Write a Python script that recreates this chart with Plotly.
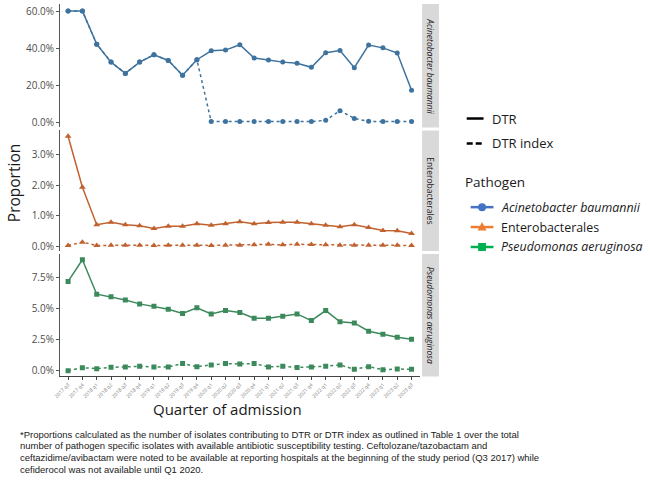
import plotly.graph_objects as go

W, H = 650, 490

quarters = ["2017 q3", "2017 q4",
            "2018 q1", "2018 q2", "2018 q3", "2018 q4",
            "2019 q1", "2019 q2", "2019 q3", "2019 q4",
            "2020 q1", "2020 q2", "2020 q3", "2020 q4",
            "2021 q1", "2021 q2", "2021 q3", "2021 q4",
            "2022 q1", "2022 q2", "2022 q3", "2022 q4",
            "2023 q1", "2023 q2", "2023 q3"]

acin_dtr = [60.0, 60.0, 42.1, 32.4, 26.3, 32.4, 36.4, 33.3, 25.3, 33.7,
            38.5, 38.9, 41.8, 34.6, 33.5, 32.4, 31.8, 29.6, 37.5, 38.7,
            29.4, 41.6, 40.1, 37.3, 17.2]
acin_idx = [60.0, 60.0, 42.1, 32.4, 26.3, 32.4, 36.4, 33.3, 25.3, 33.7,
            0.3, 0.3, 0.3, 0.3, 0.3, 0.3, 0.3, 0.3, 1.0, 6.2,
            2.0, 0.4, 0.3, 0.3, 0.3]

ent_dtr = [3.60, 1.93, 0.70, 0.78, 0.70, 0.67, 0.58, 0.65, 0.65, 0.73,
           0.68, 0.73, 0.80, 0.73, 0.77, 0.78, 0.78, 0.73, 0.68, 0.63,
           0.70, 0.61, 0.51, 0.50, 0.41]
ent_idx = [0.02, 0.13, 0.02, 0.03, 0.03, 0.03, 0.02, 0.03, 0.03, 0.03,
           0.02, 0.03, 0.03, 0.04, 0.06, 0.04, 0.06, 0.05, 0.04, 0.03,
           0.03, 0.03, 0.03, 0.03, 0.02]

pse_dtr = [7.20, 8.95, 6.17, 5.96, 5.71, 5.39, 5.20, 4.96, 4.61, 5.07,
           4.58, 4.85, 4.69, 4.23, 4.23, 4.39, 4.58, 4.04, 4.85, 3.94,
           3.85, 3.18, 2.94, 2.70, 2.53]
pse_idx = [0.00, 0.24, 0.16, 0.27, 0.30, 0.35, 0.30, 0.30, 0.57, 0.32,
           0.46, 0.57, 0.54, 0.57, 0.30, 0.35, 0.26, 0.30, 0.35, 0.46,
           0.11, 0.32, 0.08, 0.13, 0.11]

pathogens = ["Acinetobacter baumannii", "Enterobacterales", "Pseudomonas aeruginosa"]
line_colors = ["#3d739e", "#c0622f", "#3c8a5c"]
legend_colors = ["#4472c4", "#ed7d31", "#00b050"]
symbols = ["circle", "triangle-up", "square"]
msizes = [5, 6, 5]
dtr_series = [acin_dtr, ent_dtr, pse_dtr]
idx_series = [acin_idx, ent_idx, pse_idx]
y_ranges = [[-2.9, 63.8], [-0.16, 3.79], [-0.47, 9.42]]
y_ticks = [[0, 20, 40, 60], [0, 1, 2, 3], [0, 2.5, 5.0, 7.5]]
strip_italic = [True, False, True]

def px(x):
    return x / W

def py(y):
    return 1 - y / H

# panel pixel geometry
x0p, x1p = 54, 418
panels = [(4, 128), (131, 252), (255, 378)]

fig = go.Figure()
xpos = list(range(1, len(quarters) + 1))

for i in range(3):
    xa = "x" if i == 0 else f"x{i+1}"
    ya = "y" if i == 0 else f"y{i+1}"
    fig.add_trace(go.Scatter(
        x=xpos, y=idx_series[i], xaxis=xa, yaxis=ya, mode="lines+markers",
        line=dict(color=line_colors[i], width=1.5, dash="3px,3px"),
        marker=dict(symbol=symbols[i], size=msizes[i], color=line_colors[i]),
        showlegend=False, hoverinfo="skip"))
    fig.add_trace(go.Scatter(
        x=xpos, y=dtr_series[i], xaxis=xa, yaxis=ya, mode="lines+markers",
        line=dict(color=line_colors[i], width=1.5),
        marker=dict(symbol=symbols[i], size=msizes[i], color=line_colors[i]),
        showlegend=False, hoverinfo="skip"))

layout = dict(
    width=W, height=H, margin=dict(l=0, r=0, t=0, b=0),
    paper_bgcolor="white", plot_bgcolor="white", showlegend=False,
    font=dict(family="Open Sans, DejaVu Sans, sans-serif", color="#333333"),
)
for i in range(3):
    xk = "xaxis" if i == 0 else f"xaxis{i+1}"
    yk = "yaxis" if i == 0 else f"yaxis{i+1}"
    top, bot = panels[i]
    last = (i == 2)
    layout[xk] = dict(
        domain=[px(x0p), px(x1p)], range=[0.4, 25.6],
        anchor="y" if i == 0 else f"y{i+1}",
        showgrid=False, zeroline=False,
        showline=last, linecolor="#444444", linewidth=1,
        ticks="outside" if last else "", ticklen=2.5, tickcolor="#444444",
        tickvals=xpos, ticktext=quarters if last else [""] * len(quarters),
        showticklabels=last, tickangle=-45,
        tickfont=dict(size=5, color="#777777", family="Open Sans, sans-serif"),
    )
    layout[yk] = dict(
        domain=[py(bot), py(top)], range=y_ranges[i],
        anchor="x" if i == 0 else f"x{i+1}",
        showgrid=False, zeroline=False,
        showline=True, linecolor="#555555", linewidth=1,
        ticks="outside", ticklen=2.5, tickcolor="#555555",
        tickvals=y_ticks[i], ticktext=[f"{v:.1f}%" for v in y_ticks[i]],
        tickfont=dict(size=10, color="#4d4d4d", family="Open Sans, sans-serif"),
    )
fig.update_layout(**layout)

shapes = []
annotations = []

def ann(x, y, text, size, xanchor="center", angle=0, family="Open Sans, sans-serif", color="#1a1a1a"):
    annotations.append(dict(xref="paper", yref="paper", x=px(x), y=py(y), text=text,
                            xanchor=xanchor, yanchor="middle", showarrow=False, textangle=angle,
                            font=dict(size=size, color=color, family=family)))

# strips
for i in range(3):
    top, bot = panels[i]
    shapes.append(dict(type="rect", xref="paper", yref="paper",
                       x0=px(420), x1=px(437), y0=py(bot), y1=py(top),
                       fillcolor="#d9d9d9", line=dict(width=0), layer="below"))
    txt = f"<i>{pathogens[i]}</i>" if strip_italic[i] else pathogens[i]
    ann(428.5, (top + bot) / 2, txt, 8.5, angle=90)

# axis titles
ann(8, 184, "Proportion", 15.5, angle=-90)
ann(224, 411, "Quarter of admission", 15)

# linetype legend
shapes.append(dict(type="line", xref="paper", yref="paper", x0=px(465), x1=px(482),
                   y0=py(119), y1=py(119), line=dict(color="black", width=2.5)))
shapes.append(dict(type="line", xref="paper", yref="paper", x0=px(465), x1=px(482),
                   y0=py(144), y1=py(144), line=dict(color="black", width=2.5, dash="6px,3px")))
ann(489, 119, "DTR", 13, xanchor="left")
ann(489, 144, "DTR index", 13, xanchor="left")

# pathogen legend
ann(461, 183, "Pathogen", 13.5, xanchor="left")
leg_y = [208, 228, 248]
for i in range(3):
    yy = leg_y[i]
    c = legend_colors[i]
    shapes.append(dict(type="line", xref="paper", yref="paper", x0=px(469), x1=px(492),
                       y0=py(yy), y1=py(yy), line=dict(color=c, width=2.5)))
    cx = 480.5
    if i == 0:
        shapes.append(dict(type="circle", xref="paper", yref="paper",
                           x0=px(cx - 4), x1=px(cx + 4), y0=py(yy + 4), y1=py(yy - 4),
                           fillcolor=c, line=dict(width=0)))
    elif i == 1:
        path = (f"M {px(cx-4.5)} {py(yy+3.5)} L {px(cx+4.5)} {py(yy+3.5)} "
                f"L {px(cx)} {py(yy-5)} Z")
        shapes.append(dict(type="path", xref="paper", yref="paper", path=path,
                           fillcolor=c, line=dict(width=0)))
    else:
        shapes.append(dict(type="rect", xref="paper", yref="paper",
                           x0=px(cx - 4), x1=px(cx + 4), y0=py(yy + 4), y1=py(yy - 4),
                           fillcolor=c, line=dict(width=0)))
    txt = f"<i>{pathogens[i]}</i>" if strip_italic[i] else pathogens[i]
    ann(498, yy, txt, 12.4, xanchor="left")

# footnote
foot = [
    "*Proportions calculated as the number of isolates contributing to DTR or DTR index as outlined in Table 1 over the total",
    "number of pathogen specific isolates with available antibiotic susceptibility testing. Ceftolozane/tazobactam and",
    "ceftazidime/avibactam were noted to be available at reporting hospitals at the beginning of the study period (Q3 2017) while",
    "cefiderocol was not available until Q1 2020.",
]
for k, line in enumerate(foot):
    ann(12, 436 + 11.7 * k, line, 9.5, xanchor="left", family="Liberation Sans, Arial, sans-serif")

fig.update_layout(shapes=shapes, annotations=annotations)
fig.write_html("out.html")
